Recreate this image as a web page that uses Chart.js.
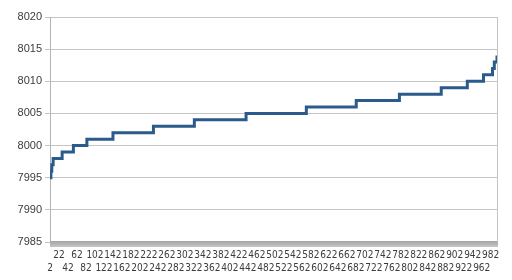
<!DOCTYPE html>
<html>
<head>
<meta charset="utf-8">
<script src="https://cdn.jsdelivr.net/npm/chart.js@4"></script>
<style>
  body { margin: 0; background: #fff; }
  canvas { display: block; }
</style>
</head>
<body>
<canvas id="myChart" width="512" height="280"></canvas>
<script>
'use strict';

// step points: category where the new value starts
let stepX = [2, 4, 6, 9, 29, 54, 84, 142, 232, 323, 438, 572, 683, 779, 872, 930, 966, 986, 990, 996];
let stepY = [7995, 7996, 7997, 7998, 7999, 8000, 8001, 8002, 8003, 8004, 8005, 8006, 8007, 8008, 8009, 8010, 8011, 8012, 8013, 8014];

// tick labels on the category axis (every 20th)
let xTicks = [];
for (let v = 2; v <= 982; v += 20) {
  xTicks.push(v);
}
let yMin = 7985;
let yMax = 8020;
let yStep = 5;

let points = [];
for (let i = 0; i < stepX.length; i++) {
  points.push({ x: stepX[i], y: stepY[i] });
}

// grey floor under the plot and the right frame line
const frame = {
  id: 'frame',
  beforeDatasetsDraw(chart) {
    const ctx = chart.ctx;
    const a = chart.chartArea;
    ctx.save();
    let g = ctx.createLinearGradient(0, a.bottom - 1, 0, a.bottom + 5);
    g.addColorStop(0, '#a4a4a4');
    g.addColorStop(1, '#c6c6c6');
    ctx.fillStyle = g;
    ctx.fillRect(a.left, a.bottom - 1, a.right - a.left + 1, 6);
    ctx.strokeStyle = '#c4c4c4';
    ctx.lineWidth = 1;
    ctx.beginPath();
    ctx.moveTo(Math.round(a.right) + 0.5, a.top);
    ctx.lineTo(Math.round(a.right) + 0.5, a.bottom);
    ctx.stroke();
    ctx.restore();
  }
};

let ctx = document.getElementById('myChart').getContext('2d');
let myChart = new Chart(ctx, {
  type: 'line',
  data: {
    datasets: [{
      data: points,
      borderColor: '#2b5b8c',
      borderWidth: 3,
      stepped: true,
      pointRadius: 0,
      fill: false
    }]
  },
  options: {
    responsive: false,
    animation: false,
    layout: { padding: { top: 17, right: 15, bottom: 0, left: 0 } },
    plugins: {
      legend: { display: false },
      tooltip: { enabled: false }
    },
    scales: {
      x: {
        type: 'linear',
        min: 2,
        max: 996,
        afterBuildTicks(scale) {
          scale.ticks = xTicks.map(v => ({ value: v }));
        },
        afterFit(scale) {
          scale.height = 38;
        },
        grid: { display: false, drawTicks: false },
        border: { display: false },
        ticks: {
          autoSkip: false,
          maxRotation: 0,
          padding: 7,
          color: '#3c3c3c',
          font: { family: '"Liberation Sans Narrow", "DejaVu Sans Condensed", sans-serif', size: 10, lineHeight: 1.27 },
          callback(value, index) {
            return index % 2 === 0 ? ['', String(value)] : String(value);
          }
        }
      },
      y: {
        min: yMin,
        max: yMax,
        afterFit(scale) {
          scale.width = 50;
        },
        grid: { color: '#c4c4c4', tickLength: 5 },
        border: { display: true, color: '#b4b4b4' },
        ticks: {
          stepSize: yStep,
          padding: 3,
          color: '#3c3c3c',
          font: { family: '"Liberation Sans", Arial, sans-serif', size: 11 },
          callback(value) {
            return String(value);
          }
        }
      }
    }
  },
  plugins: [frame]
});
</script>
</body>
</html>
